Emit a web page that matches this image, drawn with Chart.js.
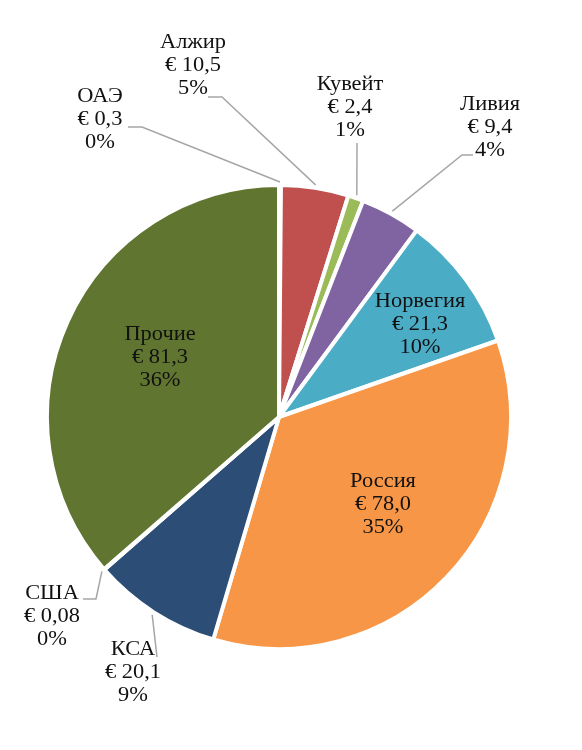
<!DOCTYPE html>
<html>
<head>
<meta charset="utf-8">
<script src="https://cdn.jsdelivr.net/npm/chart.js@4"></script>
<style>
  html, body { margin: 0; padding: 0; background: #fff; }
  #wrap { width: 582px; height: 750px; position: relative; }
</style>
</head>
<body>
<div id="wrap"><canvas id="pieChart"></canvas></div>
<script>
// data (billion €)
const countries = ['ОАЭ', 'Алжир', 'Кувейт', 'Ливия', 'Норвегия', 'Россия', 'КСА', 'США', 'Прочие'];
const values = [0.3, 10.5, 2.4, 9.4, 21.3, 78.0, 20.1, 0.08, 81.3];
const colors = ['#4F81BD', '#C0504D', '#9BBB59', '#8064A2', '#4BACC6', '#F79646', '#2C4D75', '#772C2A', '#5F7530'];

// where each label sits; outside ones get a leader line to the slice
const labelLayout = {
  'ОАЭ':      { x: 100, y: 97,  line: [[128, 127], [142, 127]] },
  'Алжир':    { x: 193, y: 43,  line: [[208, 97], [222, 97]] },
  'Кувейт':   { x: 350, y: 85,  line: [[357, 143]] },
  'Ливия':    { x: 490, y: 105, line: [[473, 155], [462, 155]] },
  'Норвегия': { x: 420, y: 302 },
  'Россия':   { x: 383, y: 482 },
  'КСА':      { x: 133, y: 650, line: [[157, 657]] },
  'США':      { x: 52,  y: 594, line: [[83, 599], [96, 599]] },
  'Прочие':   { x: 160, y: 335 }
};

const total = values.reduce((a, b) => a + b, 0);

function fmtValue(v) {
  const s = v < 0.1 ? v.toFixed(2) : v.toFixed(1);
  return '€ ' + s.replace('.', ',');
}

const pieLabels = {
  id: 'pieLabels',
  afterDatasetsDraw(chart) {
    const ctx = chart.ctx;
    const meta = chart.getDatasetMeta(0);
    const stretch = 1.12; // text in the original is a bit wider than the font
    ctx.save();
    meta.data.forEach((arc, i) => {
      const lay = labelLayout[countries[i]];
      if (!lay) return;
      const p = arc.getProps(['x', 'y', 'startAngle', 'endAngle', 'outerRadius'], true);
      if (lay.line) {
        const mid = (p.startAngle + p.endAngle) / 2;
        const r = p.outerRadius + 3;
        ctx.strokeStyle = '#A6A6A6';
        ctx.lineWidth = 1.5;
        ctx.beginPath();
        ctx.moveTo(lay.line[0][0], lay.line[0][1]);
        for (let k = 1; k < lay.line.length; k++) ctx.lineTo(lay.line[k][0], lay.line[k][1]);
        ctx.lineTo(p.x + Math.cos(mid) * r, p.y + Math.sin(mid) * r);
        ctx.stroke();
      }
      const lines = [countries[i], fmtValue(values[i]), Math.round(values[i] / total * 100) + '%'];
      ctx.save();
      ctx.translate(lay.x, 0);
      ctx.scale(stretch, 1);
      ctx.fillStyle = '#111';
      ctx.font = '20px "Liberation Serif", "Times New Roman", serif';
      ctx.textAlign = 'center';
      ctx.textBaseline = 'middle';
      lines.forEach((t, k) => ctx.fillText(t, 0, lay.y + k * 23));
      ctx.restore();
    });
    ctx.restore();
  }
};

const ctx = document.getElementById('pieChart').getContext('2d');
const pieChart = new Chart(ctx, {
  type: 'pie',
  data: {
    labels: countries,
    datasets: [{
      data: values,
      backgroundColor: colors,
      borderColor: '#ffffff',
      borderWidth: 4
    }]
  },
  options: {
    responsive: true,
    maintainAspectRatio: false,
    animation: false,
    layout: { padding: { left: 45, top: 183, right: 69, bottom: 99 } },
    plugins: {
      legend: { display: false },
      tooltip: { enabled: false }
    }
  },
  plugins: [pieLabels]
});
</script>
</body>
</html>
